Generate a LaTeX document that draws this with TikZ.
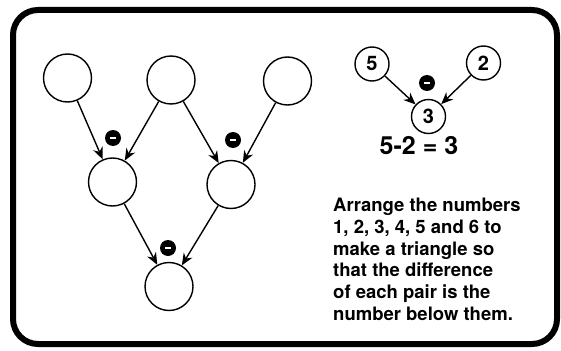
\documentclass[tikz,border=0pt]{standalone}
\usepackage{fontspec}
\setmainfont{TeX Gyre Heros}
\usetikzlibrary{arrows.meta}

\begin{document}
\begin{tikzpicture}[x=1pt,y=-1pt,>={Stealth[length=12pt,width=10pt]},
  ring/.style={draw,circle,line width=1.4pt,minimum size=48pt,inner sep=0pt},
  numring/.style={draw,circle,line width=1.4pt,minimum size=34pt,inner sep=0pt},
  minus/.style={circle,fill=black,minimum size=16pt,inner sep=0pt}]
  \useasboundingbox (0,0) rectangle (561,350);
  \draw[line width=6pt,rounded corners=25pt] (13,10) rectangle (557,344);
  \node[ring] (t1) at (67.5,78) {};
  \node[ring] (t2) at (171,80) {};
  \node[ring] (t3) at (287.5,81) {};
  \node[ring] (m1) at (112.5,182) {};
  \node[ring] (m2) at (231,184.5) {};
  \node[ring] (b) at (169,286.5) {};
  \foreach \a/\z in {t1/m1,t2/m1,t2/m2,t3/m2,m1/b,m2/b}
    \draw[->,line width=1.4pt] (\a) -- (\z);
  \foreach \n/\x/\y/\v in {e5/372/64/5,e2/483.5/63/2,e3/428.5/116.5/3}
    \node[numring] (\n) at (\x,\y) {\bfseries\fontsize{20}{20}\selectfont\v};
  \draw[->,line width=1.4pt] (e5) -- (e3);
  \draw[->,line width=1.4pt] (e2) -- (e3);
  \foreach \x/\y/\n in {113/138/d1,233/140/d2,168/248/d3,427/83/d4}
    \node[minus] (\n) at (\x,\y) {\textcolor{white}{\rule[-1pt]{6pt}{2pt}}};
  \node[font=\bfseries\fontsize{25}{25}\selectfont] (eq) at (419,146) {5-2 = 3};
  \node[anchor=north west,align=left,inner sep=0pt,
    font=\bfseries\fontsize{18.5}{21.7}\selectfont] (txt) at (333,198)
    {Arrange the numbers\\1, 2, 3, 4, 5 and 6 to\\make a triangle so\\that the difference\\of each pair is the\\number below them.};
\end{tikzpicture}
\end{document}
